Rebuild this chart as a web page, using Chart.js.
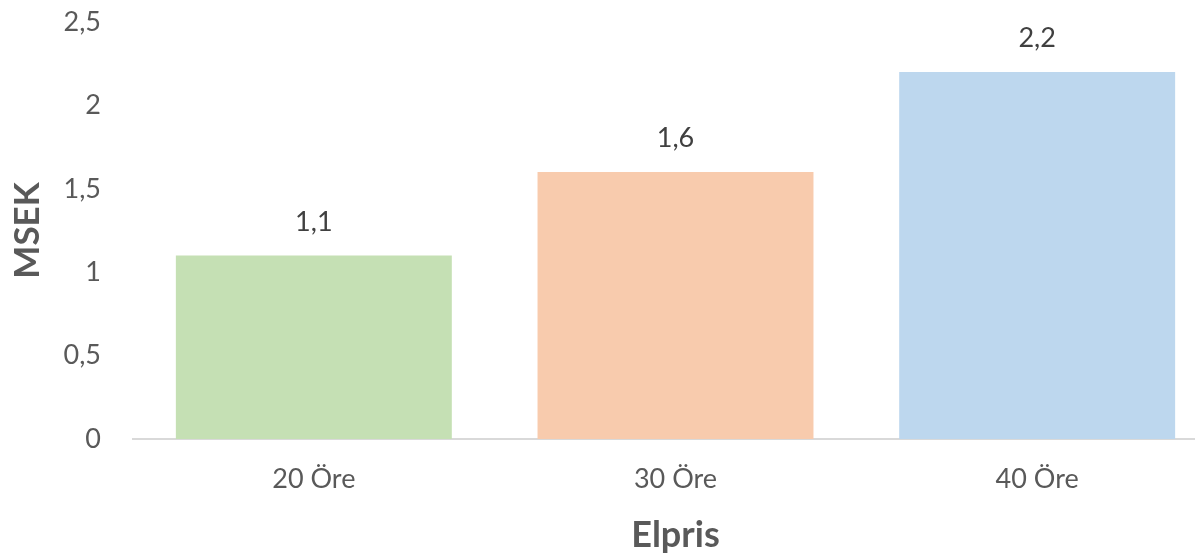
<!DOCTYPE html>
<html>
<head>
<meta charset="utf-8">
<script src="https://cdn.jsdelivr.net/npm/chart.js@4"></script>
<style>
  html, body { margin: 0; padding: 0; background: #ffffff; overflow: hidden; }
  #wrap { width: 1222px; height: 557px; position: relative; }
</style>
</head>
<body>
<div id="wrap"><canvas id="c"></canvas></div>
<script>
const categories = ["20 Öre", "30 Öre", "40 Öre"];
const values = [1.1, 1.6, 2.2];
const barColors = ["#c5e0b4", "#f8cbad", "#bdd7ee"];
const yTicks = [0, 0.5, 1, 1.5, 2, 2.5];
const xTitle = "Elpris";
const yTitle = "MSEK";

const fmt = v => String(v).replace('.', ',');

const valueLabels = {
  id: 'valueLabels',
  afterDatasetsDraw(chart) {
    const ctx = chart.ctx;
    const meta = chart.getDatasetMeta(0);
    ctx.save();
    ctx.font = '27px Lato';
    ctx.fillStyle = '#404040';
    ctx.textAlign = 'center';
    ctx.textBaseline = 'alphabetic';
    meta.data.forEach((bar, i) => {
      ctx.fillText(fmt(chart.data.datasets[0].data[i]), bar.x, bar.y - 25);
    });
    ctx.restore();
  }
};

new Chart(document.getElementById('c'), {
  type: 'bar',
  data: {
    labels: categories,
    datasets: [{
      data: values,
      backgroundColor: barColors,
      borderWidth: 0,
      categoryPercentage: 1,
      barPercentage: 0.763
    }]
  },
  options: {
    responsive: true,
    maintainAspectRatio: false,
    animation: false,
    devicePixelRatio: 1,
    layout: { padding: { top: 22, right: 4, left: 0, bottom: 0 } },
    plugins: { legend: { display: false }, tooltip: { enabled: false }, title: { display: false } },
    scales: {
      x: {
        grid: { display: false, drawTicks: false },
        border: { display: true, color: '#d9d9d9', width: 2 },
        ticks: { color: '#595959', font: { family: 'Lato', size: 27 }, padding: 24 },
        title: { display: true, text: xTitle, color: '#595959', font: { family: 'Lato', size: 36, weight: 'bold' }, padding: { top: 0, bottom: 0 } },
        afterFit(scale) { scale.height = 118; }
      },
      y: {
        min: 0, max: 2.5,
        afterBuildTicks(scale) { scale.ticks = yTicks.map(v => ({ value: v })); },
        grid: { display: false, drawTicks: false },
        border: { display: false },
        ticks: { color: '#595959', font: { family: 'Lato', size: 27 }, padding: 32, callback: v => fmt(v) },
        title: { display: true, text: yTitle, color: '#595959', font: { family: 'Lato', size: 35, weight: 'bold' }, padding: { top: 7, bottom: 0 } },
        afterFit(scale) { scale.width = 133; scale.paddingTop = 0; scale.paddingBottom = 0; }
      }
    }
  },
  plugins: [valueLabels]
});
</script>
</body>
</html>
